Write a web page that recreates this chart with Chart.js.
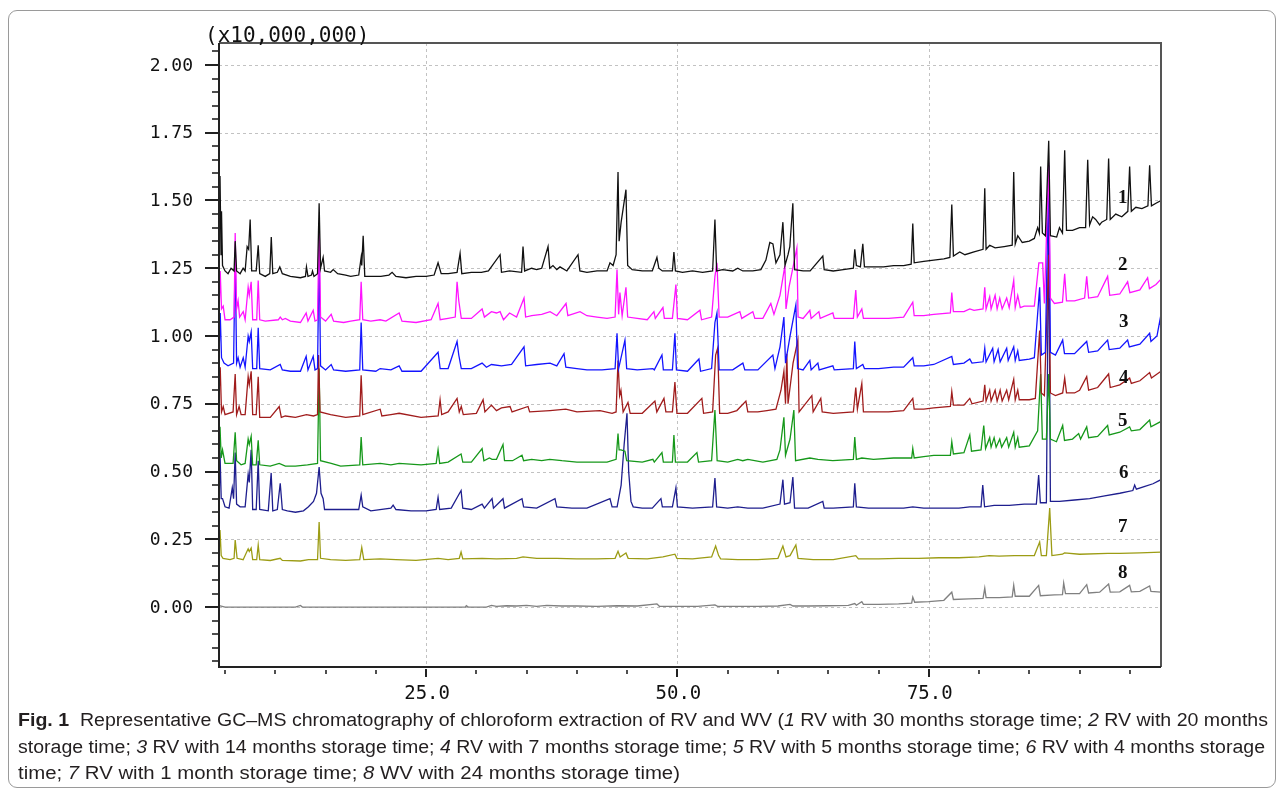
<!DOCTYPE html>
<html>
<head>
<meta charset="utf-8">
<script src="https://cdn.jsdelivr.net/npm/chart.js@4.4.1/dist/chart.umd.min.js"></script>
<style>
  html, body { margin: 0; padding: 0; background: #fff; }
  #wrap { position: relative; width: 1284px; height: 791px; overflow: hidden; background: #fff; }
  #frame { position: absolute; left: 8px; top: 10px; width: 1266px; height: 776px; border: 1px solid #9a9a9a; border-radius: 9px; }
  #c { position: absolute; left: 0; top: 0; }
  .ln { position: absolute; left: 18px; white-space: nowrap; font-family: "Liberation Sans Narrow", "Liberation Sans", "Open Sans", sans-serif; font-size: 18px; line-height: 20px; color: #231f20; transform-origin: 0 0; }
  .ln b { font-weight: bold; }
</style>
</head>
<body>
<div id="wrap">
  <div id="frame"></div>
  <canvas id="c" width="1284" height="791"></canvas>
  <div class="ln" data-w="1250" style="top:710px"><b>Fig. 1</b>&nbsp; Representative GC–MS chromatography of chloroform extraction of RV and WV (<i>1</i> RV with 30 months storage time; <i>2</i> RV with 20 months</div>
  <div class="ln" data-w="1247" style="top:737px">storage time; <i>3</i> RV with 14 months storage time; <i>4</i> RV with 7 months storage time; <i>5</i> RV with 5 months storage time; <i>6</i> RV with 4 months storage</div>
  <div class="ln" data-w="662" style="top:763px">time; <i>7</i> RV with 1 month storage time; <i>8</i> WV with 24 months storage time)</div>
</div>
<script>
// ---- axis ranges and ticks ----
const xMin = 4.4, xMax = 98.1;
const yMin = -0.221, yMax = 2.081;
const xMajor = [25, 50, 75];
const xMinor = [5, 10, 15, 20, 30, 35, 40, 45, 55, 60, 65, 70, 80, 85, 90, 95];
const yMajor = [0, 0.25, 0.5, 0.75, 1.0, 1.25, 1.5, 1.75, 2.0];
const yMinor = [-0.2, -0.15, -0.1, -0.05, 0.05, 0.1, 0.15, 0.2, 0.3, 0.35, 0.4, 0.45, 0.55, 0.6, 0.65, 0.7, 0.8, 0.85, 0.9, 0.95, 1.05, 1.1, 1.15, 1.2, 1.3, 1.35, 1.4, 1.45, 1.55, 1.6, 1.65, 1.7, 1.8, 1.85, 1.9, 1.95, 2.05];
const yUnitLabel = "(x10,000,000)";

// ---- trace labels ----
const traceNames = ["1", "2", "3", "4", "5", "6", "7", "8"];
const labelX = [94.3, 94.3, 94.4, 94.4, 94.3, 94.4, 94.3, 94.3];
const labelY = [1.51, 1.26, 1.05, 0.845, 0.686, 0.495, 0.295, 0.125];
const colors = ["#111111", "#ff14ff", "#1414ff", "#a01c1c", "#16981a", "#1e1e8e", "#9c9c14", "#808080"];

// ---- series (retention time, intensity x10^7) ----
const trace1 = [[4.42,1.40],[4.5,1.59],[4.6,1.30],[4.65,1.46],[4.75,1.26],[5.0,1.24],[5.3,1.23],[5.6,1.25],[5.9,1.24],[6.01,1.35],[6.15,1.24],[6.5,1.23],[6.8,1.25],[7.0,1.24],[7.2,1.33],[7.35,1.32],[7.5,1.43],[7.65,1.24],[8.1,1.24],[8.3,1.335],[8.45,1.23],[9.0,1.22],[9.45,1.23],[9.6,1.365],[9.75,1.23],[10.2,1.235],[10.45,1.255],[10.7,1.23],[11.5,1.22],[12.5,1.215],[13.0,1.22],[13.1,1.255],[13.25,1.22],[13.6,1.225],[13.7,1.24],[13.85,1.22],[14.2,1.23],[14.36,1.49],[14.5,1.25],[14.76,1.29],[14.9,1.24],[15.5,1.235],[15.76,1.245],[16.2,1.23],[17,1.225],[17.5,1.22],[18.3,1.225],[18.54,1.29],[18.6,1.26],[18.74,1.37],[18.9,1.22],[19.5,1.22],[20.5,1.22],[21.3,1.225],[21.62,1.235],[22,1.22],[23,1.215],[24,1.22],[25,1.22],[25.8,1.225],[26.19,1.27],[26.5,1.23],[27.2,1.23],[28.08,1.235],[28.38,1.305],[28.55,1.23],[29.5,1.235],[30.5,1.235],[31.2,1.24],[32.36,1.30],[32.5,1.235],[33.3,1.24],[34.5,1.235],[34.64,1.33],[34.8,1.24],[35.5,1.25],[36,1.245],[36.5,1.25],[37.13,1.33],[37.3,1.25],[37.62,1.26],[38,1.245],[38.32,1.255],[39,1.24],[40.11,1.30],[40.3,1.24],[41,1.235],[42,1.24],[43,1.24],[43.29,1.27],[43.6,1.26],[43.9,1.30],[44.09,1.605],[44.2,1.35],[44.4,1.42],[44.6,1.47],[44.88,1.54],[45.05,1.26],[45.5,1.245],[46.5,1.24],[47.5,1.24],[47.96,1.29],[48.15,1.25],[48.5,1.24],[49.5,1.24],[49.65,1.31],[49.8,1.24],[50.5,1.235],[51.5,1.24],[52.5,1.235],[53.5,1.24],[53.73,1.43],[53.9,1.24],[54.5,1.245],[55.5,1.24],[56.0,1.25],[56.5,1.24],[57.5,1.24],[58.3,1.245],[58.8,1.28],[59.19,1.345],[59.5,1.34],[59.8,1.27],[60.2,1.30],[60.49,1.42],[60.7,1.26],[61.0,1.30],[61.18,1.33],[61.48,1.49],[61.65,1.245],[62.5,1.24],[63.2,1.24],[64.46,1.295],[64.6,1.245],[65.5,1.24],[66.5,1.245],[67.5,1.25],[67.64,1.32],[67.8,1.26],[68.2,1.255],[68.44,1.34],[68.6,1.255],[69.5,1.255],[70.5,1.255],[71.5,1.26],[72.5,1.26],[73.25,1.265],[73.41,1.415],[73.55,1.27],[74.5,1.275],[75.5,1.28],[76.5,1.285],[77.1,1.29],[77.29,1.485],[77.45,1.295],[78.08,1.31],[78.6,1.30],[79.5,1.31],[80.4,1.32],[80.57,1.545],[80.7,1.32],[81.06,1.335],[81.6,1.325],[82.5,1.33],[83.3,1.335],[83.45,1.605],[83.6,1.34],[83.85,1.37],[84.3,1.345],[85.0,1.35],[85.5,1.36],[85.83,1.40],[86.0,1.38],[86.13,1.625],[86.3,1.38],[86.6,1.37],[86.93,1.72],[87.1,1.37],[87.72,1.365],[88.0,1.40],[88.3,1.38],[88.52,1.685],[88.7,1.39],[89.3,1.39],[90,1.40],[90.6,1.40],[90.81,1.65],[91.0,1.41],[91.3,1.44],[91.6,1.43],[92.0,1.41],[92.2,1.42],[92.7,1.43],[92.89,1.655],[93.05,1.43],[93.6,1.45],[94.2,1.44],[94.8,1.46],[94.98,1.625],[95.15,1.46],[95.6,1.475],[96.2,1.47],[96.8,1.48],[96.97,1.63],[97.15,1.48],[97.6,1.49],[98.1,1.50]];

const trace2 = [[4.42,1.10],[4.52,1.24],[4.65,1.10],[4.82,1.11],[5.0,1.06],[5.5,1.06],[5.9,1.07],[6.01,1.38],[6.15,1.10],[6.3,1.13],[6.45,1.07],[6.81,1.09],[7.0,1.06],[7.3,1.18],[7.41,1.15],[7.6,1.20],[7.75,1.06],[8.15,1.06],[8.3,1.205],[8.45,1.06],[9.0,1.055],[10.3,1.06],[10.49,1.07],[10.7,1.06],[11.0,1.065],[11.5,1.055],[12.5,1.05],[13.07,1.085],[13.25,1.055],[13.77,1.095],[13.95,1.055],[14.2,1.06],[14.36,1.42],[14.5,1.07],[15.0,1.055],[15.56,1.08],[15.8,1.055],[16.8,1.05],[17.5,1.055],[18.4,1.06],[18.54,1.20],[18.7,1.06],[19.5,1.055],[20.43,1.06],[21.0,1.055],[22.32,1.085],[22.6,1.055],[24,1.05],[25.5,1.06],[26.19,1.12],[26.4,1.06],[27.19,1.065],[27.9,1.07],[28.08,1.20],[28.25,1.13],[28.5,1.065],[29.5,1.065],[30.57,1.10],[30.8,1.07],[31.5,1.09],[32.0,1.085],[32.36,1.09],[32.7,1.06],[33.3,1.085],[34.0,1.07],[34.74,1.14],[34.9,1.07],[35.5,1.075],[36.5,1.08],[37.33,1.09],[38.0,1.075],[38.92,1.12],[39.1,1.075],[40.31,1.09],[41.0,1.075],[42.0,1.07],[43.0,1.065],[43.8,1.07],[43.99,1.245],[44.15,1.08],[44.28,1.16],[44.5,1.075],[44.88,1.18],[45.05,1.07],[46,1.065],[47.0,1.06],[47.66,1.09],[47.8,1.065],[48.56,1.105],[48.7,1.065],[49.5,1.065],[49.85,1.19],[50.0,1.065],[51.0,1.06],[52.24,1.095],[52.4,1.06],[53.4,1.07],[53.73,1.22],[53.93,1.27],[54.15,1.07],[55,1.07],[56.21,1.09],[56.4,1.065],[57.5,1.09],[57.7,1.065],[58.5,1.065],[59.29,1.12],[59.6,1.08],[60.2,1.15],[60.69,1.26],[60.8,1.10],[61.1,1.18],[61.88,1.325],[62.0,1.07],[62.5,1.065],[63.17,1.095],[63.3,1.065],[64.07,1.09],[64.2,1.065],[65.46,1.085],[65.6,1.065],[66.5,1.065],[67.5,1.065],[67.74,1.17],[67.9,1.07],[68.34,1.10],[68.5,1.065],[69.5,1.065],[71,1.065],[72.5,1.07],[73.41,1.125],[73.55,1.075],[74.5,1.075],[75.5,1.08],[77.15,1.085],[77.29,1.16],[77.45,1.09],[78.5,1.09],[79.08,1.10],[79.5,1.095],[80.4,1.10],[80.57,1.18],[80.7,1.10],[81.06,1.145],[81.2,1.10],[81.6,1.15],[81.8,1.10],[82.06,1.14],[82.3,1.10],[82.75,1.14],[83.0,1.105],[83.45,1.205],[83.6,1.105],[83.85,1.15],[84.1,1.105],[84.5,1.11],[85.5,1.11],[85.95,1.27],[86.13,1.27],[86.33,1.27],[86.5,1.12],[86.93,1.64],[87.1,1.14],[87.5,1.12],[88.3,1.125],[88.52,1.23],[88.7,1.13],[89.5,1.13],[90.5,1.14],[90.71,1.22],[90.9,1.14],[91.8,1.145],[92.79,1.22],[93,1.15],[94.0,1.155],[94.78,1.20],[95.0,1.16],[96,1.17],[96.77,1.215],[96.95,1.175],[97.6,1.19],[98.1,1.21]];

const trace3 = [[4.42,0.95],[4.52,1.085],[4.65,0.92],[4.9,0.90],[5.3,0.89],[5.85,0.90],[6.01,1.31],[6.15,0.90],[6.3,0.92],[6.5,0.885],[6.81,0.92],[7.0,0.885],[7.3,1.00],[7.41,0.98],[7.6,1.015],[7.75,0.88],[8.15,0.88],[8.3,1.03],[8.45,0.88],[9.5,0.875],[10.49,0.895],[10.7,0.875],[11.5,0.87],[12.5,0.87],[13.07,0.925],[13.25,0.875],[13.77,0.925],[13.95,0.875],[14.2,0.88],[14.36,1.32],[14.5,0.89],[15.0,0.875],[15.56,0.895],[15.8,0.875],[17.0,0.87],[18.4,0.875],[18.54,1.05],[18.7,0.875],[20.0,0.87],[20.43,0.88],[21.5,0.875],[22.32,0.89],[22.6,0.87],[24.5,0.87],[26.19,0.94],[26.4,0.88],[27.19,0.88],[28.08,0.98],[28.25,0.93],[28.5,0.88],[29.5,0.88],[30.57,0.90],[31.0,0.885],[31.5,0.895],[32.5,0.89],[33.5,0.895],[34.74,0.96],[34.9,0.89],[36.0,0.895],[37.33,0.90],[38.0,0.89],[38.72,0.935],[38.9,0.885],[40.0,0.88],[41.0,0.875],[42.5,0.875],[43.8,0.88],[43.99,1.01],[44.15,0.88],[44.78,0.985],[44.95,0.88],[46,0.875],[47.56,0.88],[47.7,0.875],[48.46,0.93],[48.6,0.875],[49.5,0.875],[49.75,1.01],[49.9,0.875],[51.0,0.87],[52.14,0.915],[52.3,0.87],[53.4,0.88],[53.73,1.05],[53.93,1.085],[54.15,0.875],[55.5,0.875],[56.51,0.90],[56.7,0.875],[58.0,0.875],[59.49,0.93],[59.7,0.88],[60.2,0.96],[60.59,1.07],[60.75,0.90],[61.2,1.00],[61.78,1.115],[61.95,0.88],[62.5,0.875],[63.17,0.91],[63.3,0.875],[63.97,0.90],[64.1,0.875],[65.46,0.89],[65.6,0.875],[67.5,0.88],[67.64,0.98],[67.8,0.88],[68.44,0.895],[68.6,0.88],[70,0.88],[71.5,0.885],[72.5,0.885],[73.41,0.92],[73.55,0.89],[74.5,0.89],[75.5,0.895],[77.29,0.925],[77.45,0.895],[78.5,0.90],[79.08,0.915],[79.3,0.90],[80.4,0.905],[80.57,0.955],[80.7,0.905],[81.36,0.955],[81.5,0.905],[81.9,0.95],[82.1,0.905],[82.75,0.955],[82.9,0.91],[83.45,0.96],[83.6,0.91],[83.85,0.945],[84.0,0.91],[85.0,0.915],[85.5,0.92],[86.03,1.18],[86.2,0.93],[86.6,0.94],[86.93,1.63],[87.1,0.94],[87.6,0.93],[88.32,0.985],[88.5,0.935],[89.5,0.935],[90.71,0.98],[90.9,0.94],[91.8,0.945],[92.79,0.985],[92.95,0.95],[94.0,0.955],[94.78,0.985],[94.95,0.96],[96.0,0.97],[96.97,1.01],[97.1,0.98],[97.7,1.0],[98.0,1.06],[98.1,1.03]];

const trace4 = [[4.42,0.80],[4.52,0.885],[4.65,0.72],[4.82,0.74],[5.0,0.71],[5.8,0.72],[6.01,0.86],[6.15,0.71],[6.4,0.74],[6.6,0.71],[7.0,0.71],[7.3,0.85],[7.41,0.82],[7.6,0.87],[7.75,0.71],[8.1,0.71],[8.3,0.85],[8.45,0.70],[9.5,0.70],[10.39,0.74],[10.6,0.70],[11.0,0.705],[12.0,0.70],[13.1,0.71],[13.8,0.705],[14.2,0.71],[14.3,0.93],[14.45,0.72],[15.5,0.71],[17.0,0.70],[18.4,0.705],[18.54,0.855],[18.7,0.71],[20.43,0.73],[20.6,0.705],[21.5,0.71],[22.32,0.715],[24.5,0.70],[26.2,0.705],[26.39,0.765],[26.55,0.71],[27.19,0.72],[28.08,0.77],[28.3,0.72],[28.5,0.74],[28.7,0.71],[30.0,0.715],[30.67,0.765],[30.85,0.72],[31.5,0.745],[32.0,0.725],[32.5,0.735],[33.35,0.74],[33.55,0.72],[35.14,0.74],[35.3,0.72],[37.33,0.725],[38.9,0.73],[40.0,0.72],[42.30,0.725],[43.5,0.715],[43.9,0.72],[44.09,0.91],[44.25,0.78],[44.38,0.80],[44.6,0.72],[45.08,0.755],[45.3,0.715],[46.5,0.715],[47.76,0.76],[47.95,0.72],[48.66,0.77],[48.85,0.72],[49.5,0.72],[49.75,0.83],[49.95,0.715],[51.0,0.715],[52.43,0.77],[52.6,0.715],[53.5,0.72],[53.8,0.93],[54.0,0.955],[54.2,0.715],[55.0,0.715],[55.91,0.725],[56.81,0.76],[57.0,0.72],[58.0,0.72],[58.90,0.725],[59.8,0.73],[60.3,0.80],[60.59,0.87],[60.75,0.75],[60.88,0.935],[61.0,0.75],[61.5,0.90],[61.98,0.985],[62.1,0.72],[63.37,0.78],[63.5,0.72],[64.26,0.77],[64.4,0.72],[65.5,0.715],[67.5,0.72],[67.74,0.81],[67.9,0.73],[68.34,0.825],[68.5,0.72],[69.5,0.72],[71.0,0.72],[72.5,0.725],[73.41,0.77],[73.55,0.73],[74.5,0.73],[75.5,0.735],[77.15,0.74],[77.29,0.795],[77.45,0.745],[78.5,0.745],[79.08,0.77],[79.3,0.75],[80.4,0.76],[80.57,0.82],[80.7,0.76],[81.06,0.80],[81.2,0.76],[81.6,0.80],[81.8,0.76],[82.1,0.80],[82.3,0.76],[82.75,0.80],[82.95,0.765],[83.45,0.84],[83.6,0.765],[83.85,0.80],[84.0,0.765],[85.0,0.765],[85.6,0.77],[86.03,1.02],[86.2,0.79],[86.5,0.78],[86.93,1.30],[87.1,0.79],[87.6,0.78],[88.32,0.79],[88.52,0.845],[88.7,0.79],[89.5,0.79],[90.0,0.80],[90.71,0.85],[90.9,0.80],[91.8,0.81],[92.89,0.86],[93.05,0.81],[94.0,0.82],[94.98,0.845],[95.15,0.825],[96.0,0.835],[96.97,0.865],[97.15,0.845],[98.1,0.87]];

const trace5 = [[4.42,0.56],[4.5,0.665],[4.62,0.55],[4.75,0.58],[5.0,0.53],[5.8,0.53],[6.01,0.645],[6.15,0.54],[6.6,0.525],[7.0,0.53],[7.3,0.62],[7.41,0.60],[7.6,0.63],[7.75,0.525],[8.1,0.525],[8.3,0.615],[8.45,0.525],[9.5,0.52],[10.39,0.53],[11.0,0.52],[12.0,0.52],[13.2,0.525],[14.2,0.53],[14.36,0.88],[14.5,0.54],[15.56,0.53],[16.5,0.52],[18.4,0.525],[18.54,0.627],[18.7,0.525],[20.43,0.53],[21.5,0.525],[22.32,0.53],[24.5,0.525],[26.0,0.53],[26.19,0.58],[26.35,0.53],[27.19,0.535],[28.48,0.565],[28.65,0.535],[29.5,0.535],[30.57,0.585],[30.75,0.54],[31.3,0.55],[31.56,0.545],[32.0,0.545],[32.65,0.60],[32.8,0.54],[33.6,0.54],[34.54,0.56],[34.7,0.54],[35.5,0.545],[36.5,0.54],[37.3,0.545],[38.5,0.54],[40.0,0.535],[41.5,0.535],[43.0,0.535],[43.9,0.545],[44.09,0.64],[44.2,0.58],[44.38,0.58],[44.78,0.575],[44.95,0.54],[46.5,0.535],[47.56,0.545],[47.7,0.535],[48.46,0.57],[48.6,0.535],[49.5,0.535],[49.65,0.635],[49.8,0.535],[51.0,0.535],[51.94,0.57],[52.1,0.535],[53.4,0.54],[53.73,0.727],[53.95,0.54],[55.0,0.535],[56.0,0.545],[56.5,0.54],[57.0,0.545],[58.5,0.535],[59.89,0.545],[60.2,0.58],[60.59,0.70],[60.75,0.56],[61.2,0.62],[61.58,0.727],[61.75,0.54],[63.17,0.55],[63.97,0.545],[65.46,0.54],[67.5,0.545],[67.64,0.627],[67.8,0.545],[68.34,0.55],[69.5,0.545],[71.5,0.55],[73.3,0.55],[73.41,0.585],[73.55,0.55],[74.5,0.555],[75.5,0.56],[77.15,0.56],[77.29,0.61],[77.45,0.565],[78.5,0.57],[79.08,0.635],[79.25,0.575],[80.2,0.58],[80.47,0.67],[80.65,0.585],[81.06,0.625],[81.2,0.59],[81.5,0.625],[81.7,0.59],[82.06,0.62],[82.25,0.59],[82.75,0.625],[82.95,0.59],[83.45,0.645],[83.6,0.59],[83.85,0.625],[84.0,0.59],[85.0,0.595],[85.83,0.65],[86.13,0.86],[86.3,0.62],[86.7,0.62],[86.93,0.86],[87.1,0.62],[87.7,0.61],[88.32,0.67],[88.5,0.615],[89.3,0.62],[89.91,0.64],[90.1,0.62],[90.71,0.665],[90.9,0.625],[91.8,0.63],[92.79,0.67],[92.95,0.635],[94.0,0.645],[94.98,0.665],[95.15,0.65],[96.0,0.655],[96.97,0.69],[97.1,0.665],[98.1,0.685]];

const trace6 = [[4.42,0.40],[4.5,0.57],[4.62,0.40],[4.75,0.40],[5.0,0.37],[5.4,0.365],[5.72,0.44],[5.85,0.40],[6.01,0.57],[6.15,0.38],[6.5,0.37],[7.0,0.37],[7.3,0.49],[7.41,0.46],[7.6,0.58],[7.75,0.36],[8.1,0.36],[8.3,0.54],[8.45,0.36],[9.3,0.355],[9.59,0.495],[9.75,0.355],[10.2,0.36],[10.49,0.457],[10.7,0.36],[11.2,0.355],[12.0,0.35],[12.8,0.355],[13.3,0.37],[13.8,0.39],[14.1,0.42],[14.36,0.517],[14.55,0.42],[14.76,0.40],[14.9,0.36],[15.5,0.36],[16.5,0.36],[17.5,0.36],[18.3,0.36],[18.54,0.413],[18.7,0.37],[19.5,0.355],[21.5,0.365],[21.72,0.376],[22.0,0.36],[23.5,0.355],[25.0,0.355],[26.0,0.36],[26.19,0.405],[26.35,0.36],[27.5,0.365],[28.48,0.43],[28.65,0.365],[29.5,0.36],[30.57,0.38],[30.8,0.365],[31.56,0.40],[31.7,0.365],[32.65,0.40],[32.8,0.365],[34.54,0.40],[34.7,0.37],[36.0,0.365],[37.82,0.40],[38.0,0.37],[39.5,0.365],[41.0,0.365],[43.29,0.40],[43.5,0.37],[44.0,0.37],[44.4,0.45],[44.7,0.60],[44.98,0.715],[45.15,0.50],[45.38,0.39],[45.6,0.37],[46.5,0.365],[47.5,0.365],[48.36,0.40],[48.5,0.37],[49.5,0.37],[49.85,0.44],[50.0,0.37],[51.5,0.365],[53.5,0.37],[53.73,0.476],[53.9,0.37],[55.0,0.365],[56.0,0.37],[57.0,0.365],[58.5,0.365],[60.2,0.38],[60.49,0.47],[60.65,0.38],[61.2,0.385],[61.48,0.48],[61.65,0.365],[63.0,0.365],[64.46,0.39],[64.6,0.365],[65.5,0.365],[67.5,0.37],[67.64,0.457],[67.8,0.37],[69.0,0.365],[71.5,0.365],[72.5,0.365],[73.41,0.37],[74.5,0.365],[76.0,0.365],[78.0,0.365],[79.08,0.37],[80.2,0.37],[80.37,0.45],[80.55,0.37],[81.5,0.375],[83.0,0.375],[84.5,0.38],[85.7,0.38],[85.93,0.487],[86.1,0.385],[86.7,0.385],[86.93,1.45],[87.1,0.39],[88.0,0.39],[89.5,0.395],[91.0,0.40],[92.5,0.41],[94.0,0.42],[95.3,0.43],[95.48,0.45],[95.65,0.435],[96.5,0.445],[97.3,0.455],[98.1,0.47]];

const trace7 = [[4.42,0.20],[4.5,0.284],[4.62,0.19],[4.8,0.18],[5.5,0.175],[5.9,0.18],[6.01,0.247],[6.2,0.18],[6.8,0.175],[7.3,0.215],[7.41,0.205],[7.6,0.218],[7.75,0.175],[8.15,0.175],[8.3,0.229],[8.45,0.175],[9.5,0.172],[10.49,0.18],[10.7,0.172],[12.5,0.17],[13.3,0.175],[14.2,0.175],[14.36,0.314],[14.5,0.18],[15.5,0.175],[17.0,0.172],[18.4,0.175],[18.6,0.22],[18.8,0.175],[20.43,0.178],[22.0,0.175],[24.0,0.172],[26.19,0.18],[27.19,0.175],[28.3,0.18],[28.48,0.203],[28.65,0.178],[30.57,0.18],[32.0,0.178],[34.0,0.18],[34.64,0.185],[36.0,0.18],[38.0,0.18],[40.0,0.178],[42.0,0.178],[43.8,0.18],[44.09,0.206],[44.3,0.185],[44.88,0.20],[45.1,0.18],[47.0,0.178],[48.56,0.185],[49.75,0.195],[49.95,0.18],[51.5,0.178],[53.4,0.185],[53.8,0.225],[54.1,0.19],[54.3,0.178],[56.0,0.175],[58.0,0.175],[60.0,0.18],[60.49,0.225],[60.8,0.185],[61.2,0.19],[61.78,0.229],[62.0,0.18],[63.5,0.175],[65.5,0.175],[67.74,0.19],[68.0,0.178],[70.0,0.178],[72.0,0.18],[74.0,0.18],[76.0,0.182],[78.0,0.182],[80.0,0.185],[81.0,0.19],[82.0,0.188],[83.5,0.19],[85.5,0.19],[86.03,0.24],[86.2,0.19],[86.7,0.19],[87.03,0.365],[87.25,0.19],[88.3,0.195],[88.5,0.20],[90.0,0.195],[92.8,0.198],[94.0,0.198],[96.0,0.20],[98.1,0.203]];

const trace8 = [[4.42,0.005],[5.0,0.0],[10.0,0.0],[12.0,0.0],[12.5,0.006],[12.7,0.0],[20.0,0.0],[28.9,0.0],[29.0,0.005],[29.2,0.0],[31.0,0.0],[31.5,0.006],[32.0,0.003],[33.0,0.005],[34.0,0.004],[35.0,0.006],[36.0,0.003],[37.0,0.006],[38.5,0.004],[40.0,0.004],[42.0,0.003],[44.0,0.005],[46.0,0.004],[47.96,0.012],[48.2,0.003],[50.0,0.003],[52.0,0.003],[53.73,0.008],[54.0,0.003],[56.0,0.003],[58.0,0.003],[60.0,0.004],[61.2,0.01],[61.5,0.004],[63.0,0.004],[65.0,0.005],[67.0,0.006],[67.64,0.013],[67.8,0.007],[68.34,0.02],[68.5,0.01],[70.0,0.01],[72.0,0.012],[73.3,0.015],[73.41,0.037],[73.6,0.018],[75.0,0.02],[76.5,0.025],[77.29,0.055],[77.45,0.028],[79.0,0.03],[80.4,0.032],[80.57,0.07],[80.7,0.035],[82.0,0.035],[83.3,0.038],[83.45,0.081],[83.6,0.04],[85.0,0.04],[85.93,0.08],[86.1,0.042],[87.5,0.045],[88.3,0.046],[88.42,0.089],[88.6,0.05],[90.0,0.05],[90.71,0.083],[90.9,0.052],[92.0,0.055],[92.89,0.085],[93.05,0.055],[94.0,0.056],[94.98,0.08],[95.15,0.056],[96.0,0.058],[96.97,0.078],[97.1,0.058],[98.1,0.055]];

const traces = [trace1, trace2, trace3, trace4, trace5, trace6, trace7, trace8];

// ---- decoration plugin: grid, axes, ticks, labels ----
const deco = {
  id: 'deco',
  beforeDatasetsDraw(chart) {
    const { ctx, chartArea: a, scales: { x, y } } = chart;
    ctx.save();
    ctx.strokeStyle = '#c2c2c2';
    ctx.lineWidth = 1;
    ctx.setLineDash([3, 3]);
    yMajor.forEach(v => {
      const p = Math.round(y.getPixelForValue(v)) + 0.5;
      ctx.beginPath(); ctx.moveTo(a.left, p); ctx.lineTo(a.right, p); ctx.stroke();
    });
    xMajor.forEach(v => {
      const p = Math.round(x.getPixelForValue(v)) + 0.5;
      ctx.beginPath(); ctx.moveTo(p, a.top); ctx.lineTo(p, a.bottom); ctx.stroke();
    });
    ctx.restore();
  },
  afterDraw(chart) {
    const { ctx, chartArea: a, scales: { x, y } } = chart;
    ctx.save();
    ctx.lineWidth = 2;
    ctx.strokeStyle = '#555555';
    ctx.beginPath(); ctx.moveTo(a.left, a.top); ctx.lineTo(a.right, a.top); ctx.lineTo(a.right, a.bottom); ctx.stroke();
    ctx.strokeStyle = '#222222';
    ctx.beginPath(); ctx.moveTo(a.left, a.top); ctx.lineTo(a.left, a.bottom); ctx.lineTo(a.right, a.bottom); ctx.stroke();
    ctx.strokeStyle = '#222222';
    ctx.lineWidth = 2;
    yMajor.forEach(v => {
      const p = Math.round(y.getPixelForValue(v));
      ctx.beginPath(); ctx.moveTo(a.left - 14, p); ctx.lineTo(a.left, p); ctx.stroke();
    });
    ctx.lineWidth = 1.6;
    yMinor.forEach(v => {
      const p = Math.round(y.getPixelForValue(v));
      ctx.beginPath(); ctx.moveTo(a.left - 7, p); ctx.lineTo(a.left, p); ctx.stroke();
    });
    ctx.lineWidth = 2;
    xMajor.forEach(v => {
      const p = Math.round(x.getPixelForValue(v));
      ctx.beginPath(); ctx.moveTo(p, a.bottom + 2); ctx.lineTo(p, a.bottom + 10); ctx.stroke();
    });
    ctx.lineWidth = 1.6;
    xMinor.forEach(v => {
      const p = Math.round(x.getPixelForValue(v));
      ctx.beginPath(); ctx.moveTo(p, a.bottom + 3); ctx.lineTo(p, a.bottom + 7); ctx.stroke();
    });
    ctx.fillStyle = '#111111';
    ctx.font = '18px "DejaVu Sans Mono", monospace';
    ctx.textAlign = 'right';
    ctx.textBaseline = 'middle';
    yMajor.forEach(v => ctx.fillText(v.toFixed(2), a.left - 26, y.getPixelForValue(v) + 1));
    ctx.font = '19px "DejaVu Sans Mono", monospace';
    ctx.textAlign = 'center';
    xMajor.forEach(v => ctx.fillText(v.toFixed(1), x.getPixelForValue(v) + 1, a.bottom + 27));
    ctx.font = '21px "DejaVu Sans Mono", monospace';
    ctx.textAlign = 'left';
    ctx.textBaseline = 'alphabetic';
    ctx.fillText(yUnitLabel, a.left - 14, a.top - 1);
    ctx.font = 'bold 19px "Liberation Serif", serif';
    ctx.textAlign = 'center';
    ctx.textBaseline = 'middle';
    traceNames.forEach((t, i) => {
      ctx.fillStyle = '#111111';
      ctx.fillText(t, x.getPixelForValue(labelX[i]), y.getPixelForValue(labelY[i]));
    });
    ctx.restore();
  }
};

new Chart(document.getElementById('c').getContext('2d'), {
  type: 'line',
  data: {
    datasets: traces.map((t, i) => ({
      label: traceNames[i],
      data: t.map(p => ({ x: p[0], y: p[1] })),
      borderColor: colors[i],
      backgroundColor: colors[i],
      borderWidth: 1.3,
      pointRadius: 0,
      tension: 0,
      fill: false
    }))
  },
  options: {
    responsive: false,
    animation: false,
    devicePixelRatio: 1,
    layout: { padding: { left: 219, right: 123, top: 43, bottom: 124 } },
    plugins: { legend: { display: false }, tooltip: { enabled: false } },
    scales: {
      x: { type: 'linear', min: xMin, max: xMax, display: false },
      y: { type: 'linear', min: yMin, max: yMax, display: false }
    }
  },
  plugins: [deco]
});

document.querySelectorAll('.ln').forEach(el => {
  const target = parseFloat(el.dataset.w);
  const w = el.getBoundingClientRect().width;
  if (w > 0) el.style.transform = 'scaleX(' + (target / w) + ')';
});
</script>
</body>
</html>
